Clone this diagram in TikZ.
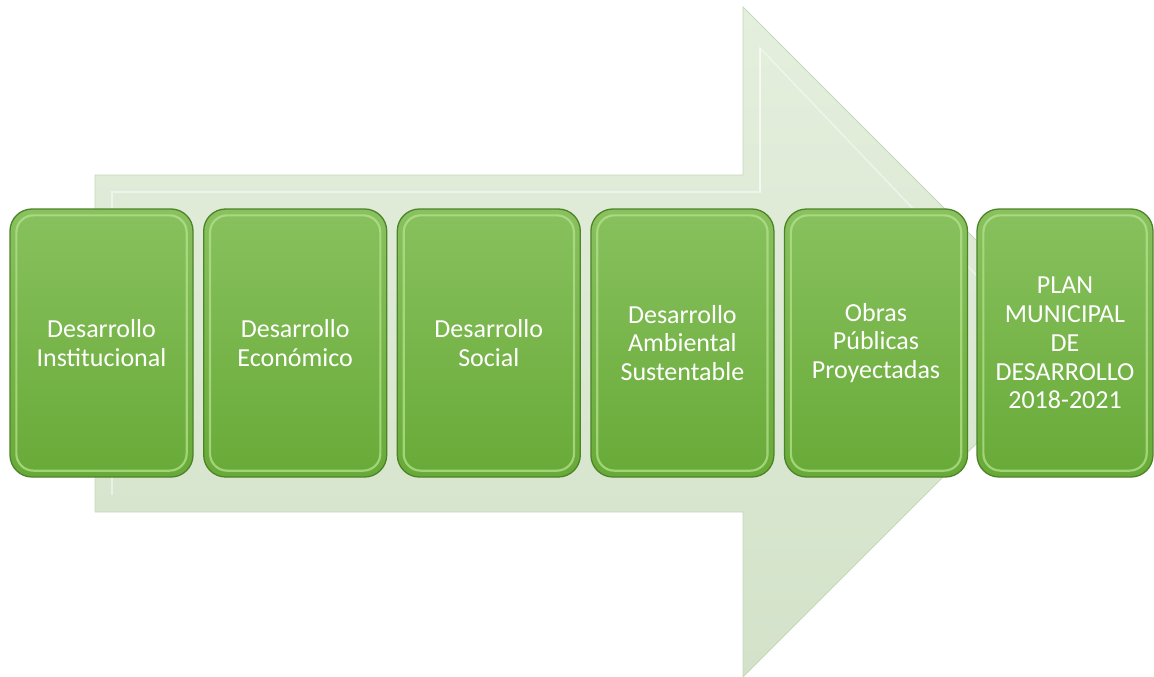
\documentclass[tikz,border=0pt]{standalone}
\usepackage{fontspec}
\setmainfont{Carlito}
\usetikzlibrary{calc}
\definecolor{arrowA}{HTML}{E4EFDD}
\definecolor{arrowB}{HTML}{D3E2C9}
\definecolor{arrowEdge}{HTML}{C5D8B8}
\definecolor{boxTop}{HTML}{88C15E}
\definecolor{boxBot}{HTML}{68AA38}
\definecolor{boxEdge}{HTML}{4E8329}
\definecolor{boxHi}{HTML}{B5E28C}
\tikzset{
  stagebox/.style={rounded corners=22pt, minimum height=268pt, inner sep=0pt,
    top color=boxTop, bottom color=boxBot, draw=boxEdge, line width=1.3pt,
    text=white, align=center, text width=172pt,
    font=\fontsize{26}{28.8}\selectfont},
  bevel/.style={rounded corners=17pt, draw=boxHi, line width=2.2pt, opacity=0.75},
  bigarrow/.style={top color=arrowA, bottom color=arrowB, draw=arrowEdge, line width=0.8pt},
  arrowbevel/.style={draw=white, opacity=0.45, line width=1.5pt}
}
\begin{document}
\begin{tikzpicture}[x=1pt,y=-1pt]
\useasboundingbox (0,0) rectangle (1154,677);
% big background arrow
\coordinate (a1) at (95,175);
\coordinate (a2) at (743,175);
\coordinate (a3) at (743,7);
\coordinate (tip) at (1078,342);
\coordinate (a5) at (743,677);
\coordinate (a6) at (743,512);
\coordinate (a7) at (95,512);
\path[bigarrow] (a1) -- (a2) -- (a3) -- (tip) -- (a5) -- (a6) -- (a7) -- cycle;
\draw[arrowbevel] (112,495) -- (112,192) -- (760,192) -- (760,48);
\draw[arrowbevel] (760,192) -- (760,48) -- (1040,342);
% stage boxes
\node[stagebox, minimum width=183pt] (b1) at (101.5,343) {Desarrollo\\Institucional};
\node[stagebox, minimum width=183pt] (b2) at (295.2,343) {Desarrollo\\Económico};
\node[stagebox, minimum width=183pt] (b3) at (488.8,343) {Desarrollo\\Social};
\node[stagebox, minimum width=183pt] (b4) at (682.4,343) {Desarrollo\\Ambiental\\Sustentable};
\node[stagebox, minimum width=183pt] (b5) at (876,343) {Obras\\Públicas\\Proyectadas};
\node[stagebox, minimum width=176pt, text width=170pt] (b6) at (1065,343) {PLAN\\MUNICIPAL\\DE\\DESARROLLO\\2018-2021};
\foreach \b in {b1,b2,b3,b4,b5,b6}{
  \draw[bevel] ($(\b.north west)+(7,7)$) rectangle ($(\b.south east)+(-7,-7)$);
}
\end{tikzpicture}
\end{document}
